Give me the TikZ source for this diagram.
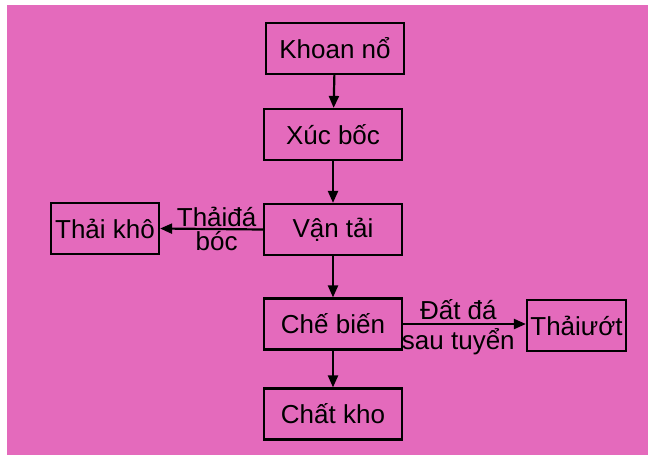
\documentclass[tikz,border=0pt]{standalone}
\usepackage{fontspec}
\setmainfont{Liberation Sans}
\usepackage{tikz}
\usetikzlibrary{positioning, arrows.meta}
\definecolor{paperpink}{RGB}{228,106,188}
\tikzset{
	flowtext/.style={font=\fontsize{26}{28}\selectfont}
}

\begin{document}
\begin{tikzpicture}[x=1pt, y=-1pt, >={Triangle[length=12pt,width=10pt]},
    box/.style={draw, line width=2.2pt, flowtext, align=center, minimum height=51pt, inner sep=2pt}]
      \useasboundingbox (0,0) rectangle (654,459);
      \fill[white] (0,0) rectangle (654,459);
      \fill[paperpink] (7,5) rectangle (648,455);

      \node[box, minimum width=138pt] (khoan) at (335,48.5) {Khoan nổ};
      \node[box, minimum width=138pt] (xuc) at (333,134.5) {Xúc bốc};
      \node[box, minimum width=138pt] (vantai) at (333,229.5) {Vận tải};
      \node[box, minimum width=138pt] (chebien) at (333,324) {Chế biến};
      \node[box, minimum width=138pt] (chatkho) at (333,414) {Chất kho};
      \node[box, minimum width=108pt] (thaikho) at (105,228.5) {Thải khô};
      \node[box, minimum width=99pt] (thaiuot) at (576.5,325.5) {Thảiướt};

      \draw[line width=2.2pt, ->] (khoan) -- (xuc);
      \draw[line width=2.2pt, ->] (xuc) -- (vantai);
      \draw[line width=2.2pt, ->] (vantai) -- (chebien);
      \draw[line width=2.2pt, ->] (chebien) -- (chatkho);
      % waste rock to the dry dump
      \draw[line width=2.2pt, ->] (vantai.west) -- (thaikho.east)
        node[pos=0.45, above, flowtext, inner sep=1pt] {Thảiđá}
        node[pos=0.45, below, flowtext, inner sep=1pt] {bóc};
      % tailings to the wet dump
      \draw[line width=2.2pt, ->] (chebien.east) -- (thaiuot.west |- chebien.east)
        node[pos=0.45, above, flowtext, inner sep=3pt] {Đất đá}
        node[pos=0.45, below, flowtext, inner sep=3pt] {sau tuyển};
    \end{tikzpicture}
\end{document}
